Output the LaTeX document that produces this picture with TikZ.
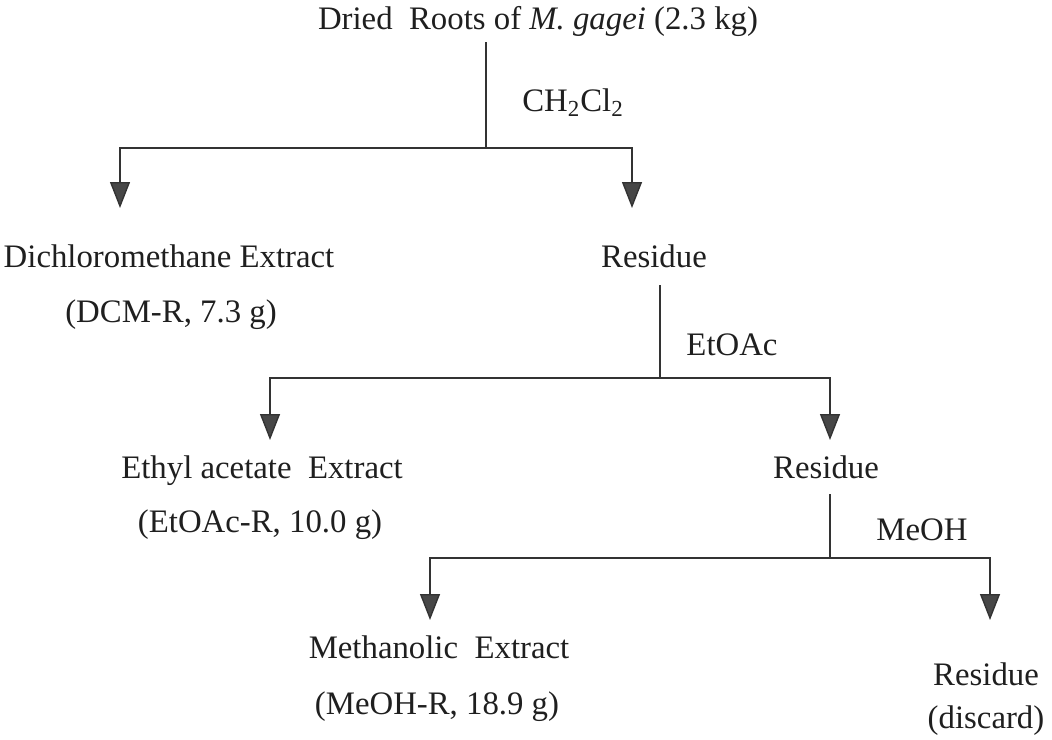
\documentclass[tikz,border=0pt]{standalone}
\usepackage{fontspec}
\setmainfont{Liberation Serif}
\usetikzlibrary{arrows.meta}

\begin{document}
\begin{tikzpicture}[
  x=0.5pt, y=-0.5pt,
  txt/.style={anchor=base, inner sep=0pt, text=black!88, font=\fontsize{16.4}{19}\selectfont},
  solv/.style={txt},
  arrow/.style={-{Triangle[width=10pt, length=13pt, fill=black!72]}, line width=0.7pt, draw=black!80},
  line/.style={line width=0.7pt, draw=black!80}
]
\useasboundingbox (0,0) rectangle (1052,739);

% nodi
\node[txt] (root) at (538, 29) {Dried\ \ Roots of \textit{M. gagei} (2.3 kg)};
\node[solv] (s1) at (573, 111) {CH\textsubscript{2}Cl\textsubscript{2}};

\node[txt] (dcm)  at (169, 267) {Dichloromethane Extract};
\node[txt] (dcmr) at (171, 322) {(DCM-R, 7.3 g)};
\node[txt] (res1) at (654, 267) {Residue};
\node[solv] (s2) at (732, 355) {EtOAc};

\node[txt] (ea)   at (262, 478) {Ethyl acetate\ \ Extract};
\node[txt] (ear)  at (260, 532) {(EtOAc-R, 10.0 g)};
\node[txt] (res2) at (826, 478) {Residue};
\node[solv] (s3) at (922, 540) {MeOH};

\node[txt] (me)   at (439, 658) {Methanolic\ \ Extract};
\node[txt] (mer)  at (437, 714) {(MeOH-R, 18.9 g)};
\node[txt] (res3) at (986, 685) {Residue};
\node[txt] (disc) at (986, 728) {(discard)};

% punti di diramazione
\coordinate (j1) at (486, 148);
\coordinate (a1) at (120, 208);
\coordinate (b1) at (632, 208);
\coordinate (j2) at (660, 378);
\coordinate (a2) at (270, 440);
\coordinate (b2) at (830, 440);
\coordinate (j3) at (830, 558);
\coordinate (a3) at (430, 620);
\coordinate (b3) at (990, 620);

% fusti
\draw[line] (486, 42) -- (j1);
\draw[line] (660, 285) -- (j2);
\draw[line] (830, 494) -- (j3);

% frecce
\draw[arrow] (j1) -| (a1);
\draw[arrow] (j1) -| (b1);
\draw[arrow] (j2) -| (a2);
\draw[arrow] (j2) -| (b2);
\draw[arrow] (j3) -| (a3);
\draw[arrow] (j3) -| (b3);
\end{tikzpicture}
\end{document}
